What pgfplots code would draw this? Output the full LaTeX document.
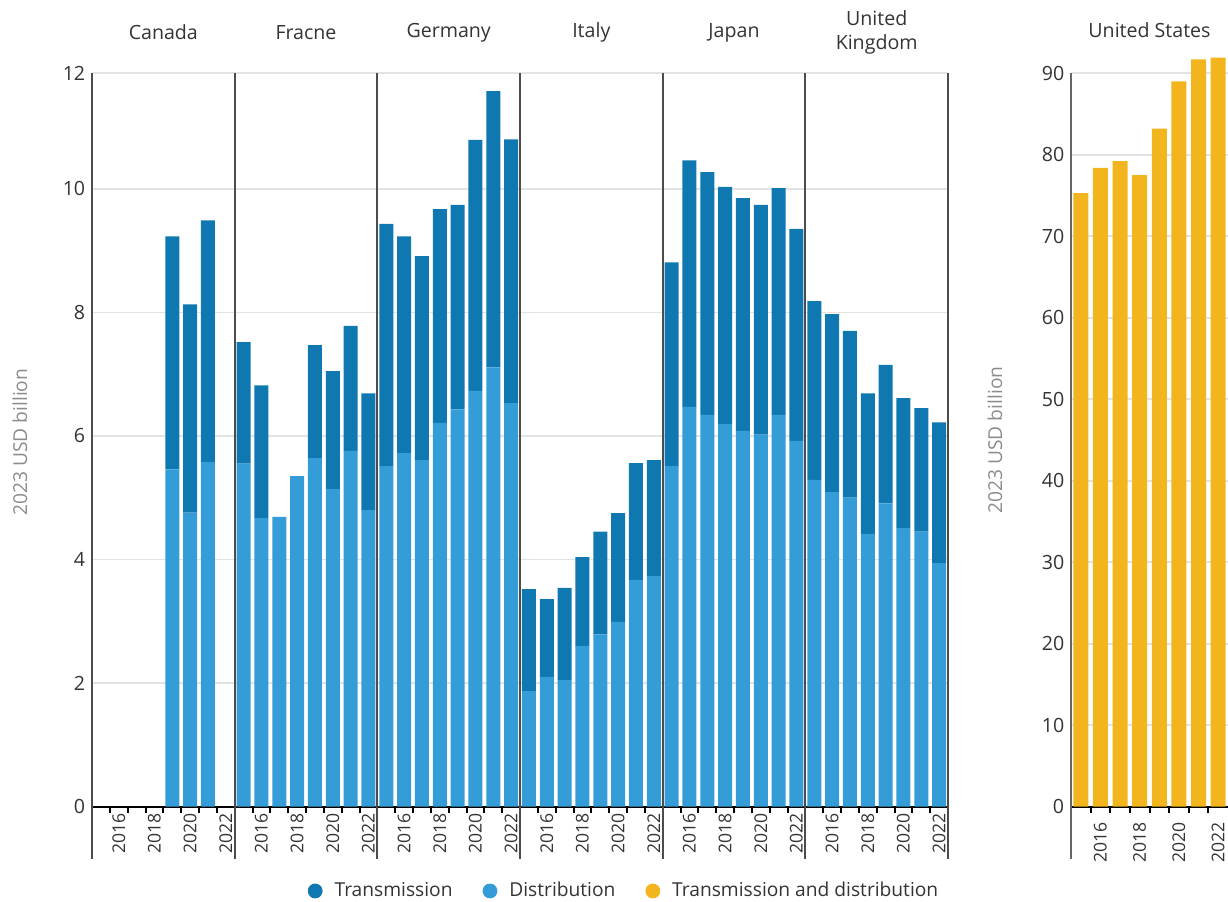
\documentclass[border=0pt]{standalone}
\usepackage{fontspec}
\setmainfont{Open Sans}
\usepackage{pgfplots}
\pgfplotsset{compat=1.18}
\usepackage{pgfplotstable}
\definecolor{tdark}{HTML}{1078B0}
\definecolor{dlight}{HTML}{349CD6}
\definecolor{tdyel}{HTML}{F2B51E}
\definecolor{txt}{HTML}{333333}
\definecolor{gtitle}{HTML}{8C8C8C}
\definecolor{gridc}{HTML}{E3E3E3}

\pgfplotstableread{
x dist trans
0.5 0 0
1.5 0 0
2.5 0 0
3.5 0 0
4.5 5.46 3.77
5.5 4.76 3.37
6.5 5.58 3.91
7.5 0 0
8.5 5.55 1.97
9.5 4.67 2.15
10.5 4.69 0
11.5 5.35 0
12.5 5.64 1.83
13.5 5.14 1.91
14.5 5.76 2.02
15.5 4.80 1.89
16.5 5.51 3.92
17.5 5.72 3.51
18.5 5.61 3.30
19.5 6.21 3.46
20.5 6.43 3.31
21.5 6.73 4.06
22.5 7.11 4.47
23.5 6.53 4.27
24.5 1.87 1.65
25.5 2.10 1.26
26.5 2.05 1.49
27.5 2.60 1.44
28.5 2.79 1.66
29.5 2.99 1.76
30.5 3.67 1.89
31.5 3.73 1.88
32.5 5.51 3.30
33.5 6.47 3.99
34.5 6.34 3.93
35.5 6.19 3.84
36.5 6.08 3.77
37.5 6.02 3.72
38.5 6.34 3.67
39.5 5.92 3.43
40.5 5.29 2.89
41.5 5.09 2.88
42.5 5.00 2.70
43.5 4.41 2.28
44.5 4.91 2.24
45.5 4.51 2.10
46.5 4.45 2.00
47.5 3.94 2.28
}\leftdata

\pgfplotstableread{
x td
0.5 75.3
1.5 78.4
2.5 79.2
3.5 77.5
4.5 83.2
5.5 89.0
6.5 91.7
7.5 91.9
}\usdata

\pgfplotsset{
  common/.style={
    scale only axis, clip=false,
    /pgf/number format/assume math mode=true,
    axis x line*=bottom, axis y line*=left,
    x axis line style={black, line width=1pt},
    y axis line style={draw=none},
    ymajorgrids, grid style={gridc, line width=0.8pt},
    ytick style={draw=none},
    xtick style={draw=none},
    yticklabel style={text=txt, font=\fontsize{9.8}{11}\selectfont},
    xticklabel style={rotate=90, anchor=east, text=txt, font=\fontsize{8.8}{10}\selectfont},
    ylabel style={text=gtitle, font=\fontsize{9.6}{11}\selectfont, anchor=center},
  }
}

\begin{document}
\fontsize{9.6}{11.5}\selectfont
\begin{tikzpicture}
\useasboundingbox (0,0) rectangle (614pt,450.5pt);
\begin{axis}[common,
  at={(46pt,47.15pt)}, anchor=origin,
  width=428pt, height=366.75pt,
  xmin=0, xmax=48, ymin=0, ymax=11.87,
  ybar stacked, bar width=0.785,
  ytick={0,2,...,10}, extra y ticks={11.87}, extra y tick labels={12},
  extra y tick style={grid=major, ytick style={draw=none}},
  xtick={1.5,3.5,...,47.5},
  xticklabels={2016,2018,2020,2022,2016,2018,2020,2022,2016,2018,2020,2022,2016,2018,2020,2022,2016,2018,2020,2022,2016,2018,2020,2022},
  ylabel={2023 USD billion},
  ylabel style={at={(axis description cs:-0.0841,0.497)}},
  legend columns=3,
  legend style={draw=none, fill=none, at={(axis description cs:0.6227,-0.1149)}, anchor=center,
     font=\fontsize{9.6}{11}\selectfont, text=txt,
     /tikz/every odd column/.append style={column sep=4pt},
     /tikz/every even column/.append style={column sep=13pt}},
]
\addplot[fill=dlight, draw=none, forget plot] table[x=x, y=dist] {\leftdata};
\addplot[fill=tdark, draw=none, forget plot] table[x=x, y=trans] {\leftdata};
\addlegendimage{legend image code/.code={\fill[tdark] (3.5pt,0pt) circle (3.5pt);}}
\addlegendentry{Transmission}
\addlegendimage{legend image code/.code={\fill[dlight] (3.5pt,0pt) circle (3.5pt);}}
\addlegendentry{Distribution}
\addlegendimage{legend image code/.code={\fill[tdyel] (3.5pt,0pt) circle (3.5pt);}}
\addlegendentry{Transmission and distribution}
\pgfplotsinvokeforeach{1,2,3,4,5,6,7,9,10,11,12,13,14,15,17,18,19,20,21,22,23,25,26,27,28,29,30,31,33,34,35,36,37,38,39,41,42,43,44,45,46,47}{
  \draw[black, line width=1pt] (axis cs:#1,0) -- ++(0pt,-3pt);
}
\pgfplotsinvokeforeach{0,8,16,24,32,40,48}{
  \draw[black!70, line width=1pt] (axis cs:#1,-0.846) -- (axis cs:#1,11.87);
}
\node[text=txt, font=\fontsize{9.8}{11}\selectfont] at (axis cs:4,12.53) {Canada};
\node[text=txt, font=\fontsize{9.8}{11}\selectfont] at (axis cs:12,12.53) {Fracne};
\node[text=txt, font=\fontsize{9.8}{11}\selectfont] at (axis cs:20,12.53) {Germany};
\node[text=txt, font=\fontsize{9.8}{11}\selectfont] at (axis cs:28,12.53) {Italy};
\node[text=txt, font=\fontsize{9.8}{11}\selectfont] at (axis cs:36,12.53) {Japan};
\node[text=txt, font=\fontsize{9.8}{12}\selectfont, align=center] at (axis cs:44,12.53) {United\\Kingdom};
\end{axis}

\begin{axis}[common,
  at={(535.5pt,47.15pt)}, anchor=origin,
  width=78.5pt, height=366.75pt,
  xmin=0, xmax=8, ymin=0, ymax=90,
  ybar, bar width=0.76,
  ytick={0,10,...,90},
  xtick={1.5,3.5,5.5,7.5},
  xticklabels={2016,2018,2020,2022},
  ylabel={2023 USD billion},
  ylabel style={at={(axis description cs:-0.484,0.50)}},
]
\addplot[fill=tdyel, draw=none] table[x=x, y=td] {\usdata};
\pgfplotsinvokeforeach{1,2,3,4,5,6,7}{
  \draw[black, line width=1pt] (axis cs:#1,0) -- ++(0pt,-3pt);
}
\draw[black!60, line width=1pt] (axis cs:0,-6.42) -- (axis cs:0,90);
\node[text=txt, font=\fontsize{9.8}{11}\selectfont] at (axis cs:4,95.3) {United States};
\end{axis}
\end{tikzpicture}
\end{document}
